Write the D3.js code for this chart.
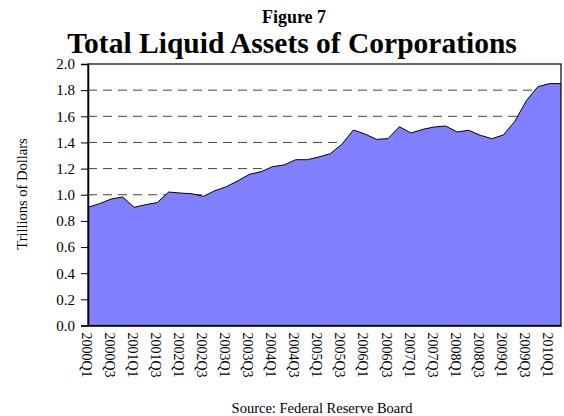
<!DOCTYPE html>
<html>
<head>
<meta charset="utf-8">
<script src="https://cdn.jsdelivr.net/npm/d3@7"></script>
<style>
  body { margin: 0; background: #fff; }
  text { font-family: "Liberation Serif", "Times New Roman", serif; fill: #000; }
</style>
</head>
<body>
<div id="chart"></div>
<script>
// quarterly data, trillions of dollars
const quarters = [
  "2000Q1", "2000Q2", "2000Q3", "2000Q4", "2001Q1", "2001Q2", "2001Q3", "2001Q4",
  "2002Q1", "2002Q2", "2002Q3", "2002Q4", "2003Q1", "2003Q2", "2003Q3", "2003Q4",
  "2004Q1", "2004Q2", "2004Q3", "2004Q4", "2005Q1", "2005Q2", "2005Q3", "2005Q4",
  "2006Q1", "2006Q2", "2006Q3", "2006Q4", "2007Q1", "2007Q2", "2007Q3", "2007Q4",
  "2008Q1", "2008Q2", "2008Q3", "2008Q4", "2009Q1", "2009Q2", "2009Q3", "2009Q4",
  "2010Q1", "2010Q2"
]
const assets = [
  0.904, 0.932, 0.967, 0.983, 0.904, 0.924, 0.940, 1.021,
  1.013, 1.008, 0.988, 1.031, 1.062, 1.107, 1.157, 1.176,
  1.215, 1.228, 1.268, 1.268, 1.289, 1.314, 1.386, 1.495,
  1.465, 1.424, 1.429, 1.520, 1.472, 1.500, 1.518, 1.526,
  1.480, 1.493, 1.455, 1.429, 1.457, 1.562, 1.720, 1.827,
  1.850, 1.850
]
const yTicks = [0, 0.2, 0.4, 0.6, 0.8, 1.0, 1.2, 1.4, 1.6, 1.8, 2.0]
const xTickLabels = quarters.filter((q, i) => i % 2 === 0)

const svgWidth = 564
const svgHeight = 416

let margin = { top: 64, right: 3, bottom: 90.5, left: 88 }
let width = svgWidth - margin.left - margin.right
let height = svgHeight - margin.top - margin.bottom

let svg = d3.select("#chart")
  .append("svg")
  .attr("width", svgWidth)
  .attr("height", svgHeight)

let chartGroup = svg.append("g")
  .attr("transform", `translate(${margin.left}, ${margin.top})`)

let x = d3.scalePoint()
  .domain(quarters)
  .range([0, width])

let y = d3.scaleLinear()
  .domain([0, 2])
  .range([height, 0])

// dashed gridlines
chartGroup.append("g")
  .selectAll("line")
  .data(yTicks.filter(d => d > 0 && d < 2))
  .enter()
  .append("line")
  .attr("x1", 0)
  .attr("x2", width)
  .attr("y1", d => y(d))
  .attr("y2", d => y(d))
  .attr("stroke", "#444")
  .attr("stroke-width", 1)
  .attr("stroke-dasharray", "9,6")

// area
let area = d3.area()
  .x((d, i) => x(quarters[i]))
  .y0(height)
  .y1(d => y(d))

chartGroup.append("path")
  .datum(assets)
  .attr("d", area)
  .attr("fill", "#8080ff")

let line = d3.line()
  .x((d, i) => x(quarters[i]))
  .y(d => y(d))

chartGroup.append("path")
  .datum(assets)
  .attr("d", line)
  .attr("fill", "none")
  .attr("stroke", "#000")
  .attr("stroke-width", 1)

// plot border
chartGroup.append("rect")
  .attr("x", 0)
  .attr("y", 0)
  .attr("width", width)
  .attr("height", height)
  .attr("fill", "none")
  .attr("stroke", "#000")
  .attr("stroke-width", 1.2)

// y axis
let leftAxis = d3.axisLeft(y)
  .tickValues(yTicks)
  .tickFormat(d3.format(".1f"))
  .tickSize(7)
  .tickPadding(6)

let yAxis = chartGroup.append("g").call(leftAxis)
yAxis.select(".domain").attr("stroke", "#000").attr("stroke-width", 1.5)
yAxis.selectAll(".tick line").attr("stroke", "#000")
yAxis.selectAll("text")
  .style("font-family", "Liberation Serif, serif")
  .style("font-size", "15px")

// x axis
let bottomAxis = d3.axisBottom(x)
  .tickValues(xTickLabels)
  .tickSize(0)

let xAxis = chartGroup.append("g")
  .attr("transform", `translate(0, ${height})`)
  .call(bottomAxis)
xAxis.select(".domain").attr("stroke", "#000").attr("stroke-width", 1.5)
xAxis.selectAll("text")
  .style("font-family", "Liberation Serif, serif")
  .style("font-size", "14px")
  .attr("transform", "rotate(90)")
  .attr("x", 7)
  .attr("y", 2)
  .attr("dy", "0.35em")
  .attr("text-anchor", "start")

// titles
svg.append("text")
  .attr("x", 294)
  .attr("y", 23)
  .attr("text-anchor", "middle")
  .style("font-weight", "bold")
  .style("font-size", "18px")
  .text("Figure 7")

svg.append("text")
  .attr("x", 292)
  .attr("y", 53)
  .attr("text-anchor", "middle")
  .style("font-weight", "bold")
  .style("font-size", "29.5px")
  .text("Total Liquid Assets of Corporations")

svg.append("text")
  .attr("transform", "translate(27, 194) rotate(-90)")
  .attr("text-anchor", "middle")
  .style("font-size", "14.5px")
  .text("Trillions of Dollars")

svg.append("text")
  .attr("x", 322)
  .attr("y", 413)
  .attr("text-anchor", "middle")
  .style("font-size", "14.5px")
  .text("Source: Federal Reserve Board")
</script>
</body>
</html>
